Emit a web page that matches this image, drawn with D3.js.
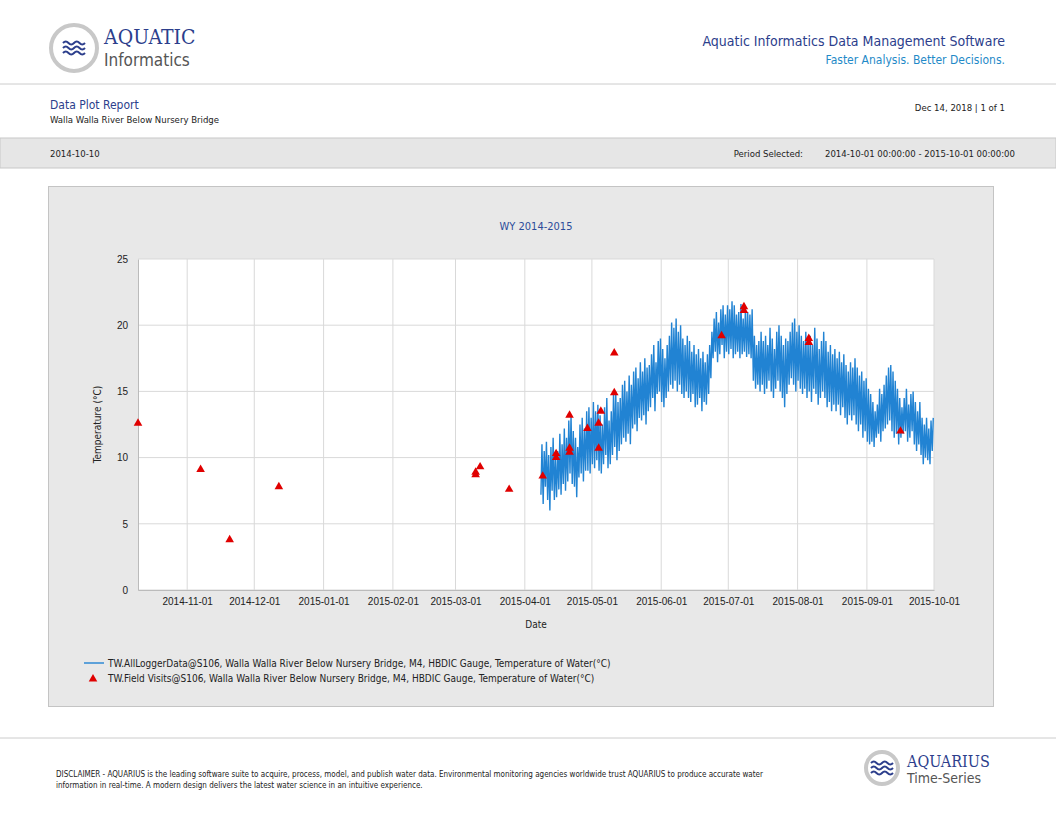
<!DOCTYPE html>
<html><head><meta charset="utf-8">
<script src="https://cdn.jsdelivr.net/npm/d3@7"></script>
<style>body{margin:0;background:#fff}svg{display:block;font-family:"Liberation Sans Narrow","DejaVu Sans Condensed","Open Sans",sans-serif}</style>
</head><body><svg id="c" width="1056" height="816"></svg>
<script>
const loggerStart = "2015-04-08";
const dailyMax = [11.0,10.5,11.2,10.2,10.8,11.5,10.0, 10.5,11.8,11.0,12.2,11.5,12.8,13.2, 12.0,11.5,10.8,12.5,13.0,12.2,13.5,
 13.8,13.0,14.2,13.5,14.0,13.2,12.5, 13.8,14.5,12.8,13.5,14.8,15.0,14.2, 14.5,15.5,15.8,15.0,16.2,15.5,16.5,
 16.8,16.0,17.2,16.5,17.5,16.8,17.0, 17.8,18.5,17.2,18.8,19.0,18.2,17.5, 18.5,19.2,20.2,19.8,20.5,19.5,20.0,
 19.0,18.5,19.2,18.8,18.0,18.5,17.8, 18.2,17.5,18.0,17.2,17.8,18.5,19.5, 20.5,21.0,20.2,21.2,21.5,20.8,21.5,
 21.2,21.8,21.5,20.8,21.0,21.6,20.5, 21.3,21.0,20.8,21.2,19.2,18.5,18.8, 19.5,18.8,19.2,18.5,19.8,19.0,18.2,
 19.5,20.0,19.2,18.5,19.0,18.8,19.5, 20.2,20.5,19.5,20.0,19.2,18.8,19.5, 18.8,19.2,18.5,19.8,19.0,18.2,18.8,
 19.5,18.8,18.0,18.5,17.8,18.2,17.5, 18.0,17.2,17.8,17.0,16.5,17.2,16.8, 17.5,16.8,16.2,16.5,15.8,16.0,15.2,
 14.8,14.2,13.5,14.0,15.2,14.8,15.5, 16.2,16.8,17.0,16.5,15.8,15.2,14.5, 13.8,14.5,15.2,14.0,14.8,15.0,14.2,
 13.5,14.2,13.0,12.5,13.0,12.2,12.8, 13.0];
const dailyMin = [7.2,6.5,7.8,6.8,6.0,7.5,6.8, 7.0,7.6,7.2,8.0,7.5,8.2,8.8, 8.0,7.8,7.0,8.5,8.8,8.2,9.0,
 9.0,8.8,9.5,9.2,9.8,9.0,8.8, 9.5,10.2,9.2,9.5,10.2,10.8,9.8, 10.5,11.0,11.5,11.2,11.8,11.0,12.2,
 12.5,12.0,13.0,12.8,13.2,12.5,13.5, 13.8,14.5,13.5,14.8,15.0,14.2,13.8, 14.5,15.0,15.5,15.2,15.8,15.0,15.5,
 14.8,14.5,15.0,14.5,14.2,14.8,13.8, 14.0,14.5,13.5,14.2,14.0,14.8,16.0, 17.5,18.0,17.2,17.8,18.5,17.5,18.0,
 17.8,18.2,17.5,17.8,18.0,17.5,17.8, 18.0,17.6,17.8,17.5,15.8,15.2,15.5, 15.0,15.5,14.8,15.2,15.8,15.0,14.5,
 15.2,15.8,15.0,14.5,13.8,14.8,15.5, 16.0,15.5,15.0,15.8,15.2,14.8,15.2, 14.5,15.0,14.2,15.2,14.8,14.0,14.5,
 15.0,14.5,13.8,14.2,13.5,14.0,13.5, 14.0,13.2,13.8,13.0,12.5,13.2,12.8, 13.2,12.5,12.0,12.5,11.5,12.0,11.2,
 11.0,11.2,10.8,11.5,11.8,11.2,12.0, 12.2,12.5,12.8,12.0,11.5,11.8,11.0, 11.5,11.8,12.0,11.2,11.5,12.0,11.0,
 10.5,11.0,10.2,9.5,10.0,9.8,9.5, 10.5];
const visitDates = ["2014-10-10","2014-11-07","2014-11-20","2014-12-12","2015-03-10","2015-03-10","2015-03-12","2015-03-25",
 "2015-04-09","2015-04-15","2015-04-15","2015-04-21","2015-04-21","2015-04-21","2015-04-29","2015-05-04","2015-05-04","2015-05-05",
 "2015-05-11","2015-05-11","2015-06-28","2015-07-08","2015-07-08","2015-08-06","2015-08-06","2015-09-16"];
const visitValues = [12.6,9.1,3.8,7.8,8.7,8.9,9.3,7.6, 8.6,10.0,10.3,10.4,10.7,13.2,12.2,12.6,10.7,13.5, 14.9,17.9,19.2,21.4,21.1,19.0,18.7,12.0];
const xTicks = ["2014-11-01","2014-12-01","2015-01-01","2015-02-01","2015-03-01","2015-04-01","2015-05-01","2015-06-01","2015-07-01","2015-08-01","2015-09-01","2015-10-01"];
const yTicks = [0,5,10,15,20,25];

const svg = d3.select("#c");
const P = d3.timeParse("%Y-%m-%d");
const T = (x,y,s,o={})=>{const t=svg.append("text").attr("x",x).attr("y",y).text(s).attr("font-size",o.fs||10).attr("fill",o.c||"#222").attr("text-anchor",o.a||"start");if(o.ff)t.attr("font-family",o.ff);return t;};

function logo(cx,cy,r){
  svg.append("circle").attr("cx",cx).attr("cy",cy).attr("r",r).attr("fill","#fff").attr("stroke","#c8c8c8").attr("stroke-width",4);
  for(let k=0;k<3;k++){
    const y=cy-5+k*5;
    svg.append("path").attr("d",`M${cx-11},${y} q2.75,-3 5.5,0 t5.5,0 t5.5,0 t5.5,0`).attr("fill","none").attr("stroke","#2c3e8c").attr("stroke-width",2);
  }
}
logo(74,48,23);
T(104,44,"AQUATIC",{fs:21,c:"#2c3e8c",ff:"DejaVu Serif Condensed"});
T(104,66,"Informatics",{fs:17,c:"#555",ff:"DejaVu Sans Condensed"});
T(1005,46,"Aquatic Informatics Data Management Software",{fs:14,c:"#2c3e8c",a:"end"});
T(1005,64,"Faster Analysis. Better Decisions.",{fs:12,c:"#1f8ac8",a:"end"});
svg.append("line").attr("x1",0).attr("x2",1056).attr("y1",84).attr("y2",84).attr("stroke","#ccc");
T(50,109,"Data Plot Report",{fs:12,c:"#2c3e8c"});
T(50,123,"Walla Walla River Below Nursery Bridge",{fs:9.5});
T(1005,111,"Dec 14, 2018 | 1 of 1",{fs:9.5,a:"end"});
svg.append("rect").attr("x",0).attr("y",138).attr("width",1056).attr("height",30).attr("fill","#e6e6e6").attr("stroke","#c8c8c8");
T(50,157,"2014-10-10",{fs:9.5});
T(803,157,"Period Selected:",{fs:9.5,a:"end"});
T(1015,157,"2014-10-01 00:00:00 - 2015-10-01 00:00:00",{fs:9.5,a:"end"});

svg.append("rect").attr("x",48.5).attr("y",186.5).attr("width",945).attr("height",520).attr("fill","#e8e8e8").attr("stroke","#c4c4c4");
const L=138,R=934,Tp=259,B=590;
svg.append("rect").attr("x",L).attr("y",Tp).attr("width",R-L).attr("height",B-Tp).attr("fill","#fff");
T((L+R)/2,230,"WY 2014-2015",{fs:11,c:"#2c4c9a",a:"middle"});

const x=d3.scaleTime().domain([P("2014-10-10"),P("2015-10-01")]).range([L,R]);
const y=d3.scaleLinear().domain([0,25]).range([B,Tp]);
const g=svg.append("g");
xTicks.forEach(d=>{const px=x(P(d));g.append("line").attr("x1",px).attr("x2",px).attr("y1",Tp).attr("y2",B).attr("stroke","#d9d9d9");});
yTicks.forEach(v=>{g.append("line").attr("x1",L).attr("x2",R).attr("y1",y(v)).attr("y2",y(v)).attr("stroke","#d9d9d9");});
const xa=svg.append("g").attr("transform",`translate(0,${B})`).call(d3.axisBottom(x).tickValues(xTicks.map(P)).tickFormat(d3.timeFormat("%Y-%m-%d")).tickSize(0).tickPadding(8));
const ya=svg.append("g").attr("transform",`translate(${L},0)`).call(d3.axisLeft(y).tickValues(yTicks).tickSize(0).tickPadding(10));
[xa,ya].forEach(a=>{a.select(".domain").attr("stroke","#bbb");a.selectAll("text").attr("font-size",10).attr("fill","#222").attr("font-family",null);});
T((L+R)/2,628,"Date",{fs:10,a:"middle"});
T(0,0,"Temperature (°C)",{fs:10,a:"middle"}).attr("transform",`translate(101,${(Tp+B)/2}) rotate(-90)`);

const s0=P(loggerStart);
const pts=[];
dailyMax.forEach((mx,i)=>{
  const d=d3.timeDay.offset(s0,i);
  pts.push([d3.timeHour.offset(d,5),dailyMin[i]]);
  pts.push([d3.timeHour.offset(d,16),mx]);
});
svg.append("path").attr("d",d3.line().x(p=>x(p[0])).y(p=>y(p[1]))(pts)).attr("fill","none").attr("stroke","#2183d3").attr("stroke-width",1.4);

const tri=d3.symbol().type(d3.symbolTriangle).size(32);
visitDates.forEach((d,i)=>{svg.append("path").attr("d",tri()).attr("transform",`translate(${x(P(d))},${y(visitValues[i])})`).attr("fill","#e00000");});

svg.append("line").attr("x1",84).attr("x2",104).attr("y1",663).attr("y2",663).attr("stroke","#2183d3").attr("stroke-width",1.4);
T(108,667,"TW.AllLoggerData@S106, Walla Walla River Below Nursery Bridge, M4, HBDIC Gauge, Temperature of Water(°C)",{fs:10});
svg.append("path").attr("d",tri()).attr("transform","translate(93,679)").attr("fill","#e00000");
T(108,682,"TW.Field Visits@S106, Walla Walla River Below Nursery Bridge, M4, HBDIC Gauge, Temperature of Water(°C)",{fs:10});

svg.append("line").attr("x1",0).attr("x2",1056).attr("y1",738).attr("y2",738).attr("stroke","#ccc");
T(56,777,"DISCLAIMER - AQUARIUS is the leading software suite to acquire, process, model, and publish water data. Environmental monitoring agencies worldwide trust AQUARIUS to produce accurate water",{fs:8});
T(56,788,"information in real-time. A modern design delivers the latest water science in an intuitive experience.",{fs:8});
logo(882,768,16);
T(907,767,"AQUARIUS",{fs:16,c:"#2c3e8c",ff:"DejaVu Serif Condensed"});
T(907,783,"Time-Series",{fs:14,c:"#555",ff:"DejaVu Sans Condensed"});
</script></body></html>
